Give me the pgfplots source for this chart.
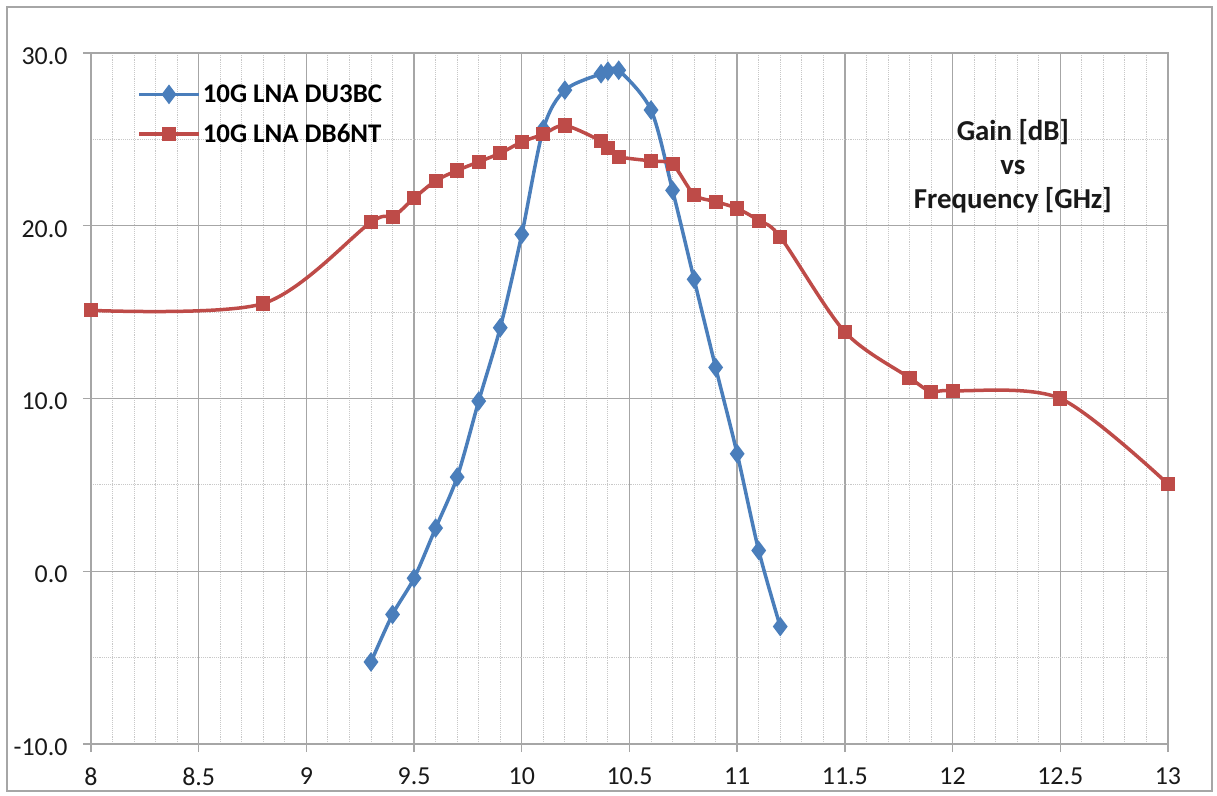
\documentclass[border=0pt]{standalone}
\usepackage{fontspec}
\setmainfont{Carlito}
\usepackage{pgfplots}
\pgfplotsset{compat=1.18}

\definecolor{xlblue}{HTML}{4A7EBB}
\definecolor{xlred}{HTML}{BE4B48}
\definecolor{majgrid}{HTML}{A6A6A6}
\definecolor{mingrid}{HTML}{C8C8C8}

\begin{document}
\begin{tikzpicture}
% page = 1217 x 796 px, plot area 1077 x 691 px
\path[use as bounding box] (-91bp,-52bp) rectangle (1126bp,744bp);
\draw[majgrid, line width=1.2bp] (-84bp,-47bp) rectangle (1121bp,737bp);
\begin{axis}[
    scale only axis,
    width=1077bp, height=691bp,
    xmin=8, xmax=13, ymin=-10, ymax=30,
    xtick distance=0.5, ytick distance=10,
    minor x tick num=4, minor y tick num=1,
    grid=both,
    major grid style={majgrid, line width=1.4bp},
    minor grid style={mingrid, line width=0.9bp, densely dotted},
    axis line style={majgrid, line width=1.4bp},
    tick align=outside,
    major tick length=8bp, minor tick length=0pt,
    tick style={majgrid, line width=1.4bp},
    xtick pos=bottom, ytick pos=left,
    ticklabel style={font=\fontsize{26}{30}\selectfont, text=black!90},
    /pgf/number format/assume math mode=true,
    yticklabel style={/pgf/number format/fixed, /pgf/number format/fixed zerofill,
        /pgf/number format/precision=1, xshift=-12bp, yshift=-3bp},
    xticklabel style={yshift=-12bp},
    legend style={draw=none, fill=none, at={(0.04,0.96)}, anchor=north west,
        font=\bfseries\fontsize{27}{30}\selectfont, row sep=16bp},
    legend cell align=left,
    legend image code/.code={
        \draw[mark repeat=2, mark phase=2, #1]
        plot coordinates {(0bp,0bp) (30bp,0bp) (60bp,0bp)};},
]
\addplot[xlblue, line width=3.5bp, smooth, tension=0.5,
    mark=diamond*, mark size=7bp, mark options={solid}] coordinates {
    (9.3,-5.25) (9.4,-2.5) (9.5,-0.4) (9.6,2.5) (9.7,5.45) (9.8,9.85)
    (9.9,14.1) (10.0,19.5) (10.1,25.6) (10.2,27.85) (10.368,28.8)
    (10.4,28.95) (10.45,29.0) (10.6,26.7) (10.7,22.05) (10.8,16.9)
    (10.9,11.8) (11.0,6.8) (11.1,1.2) (11.2,-3.2)
};
\addlegendentry{10G LNA DU3BC}
\addplot[xlred, line width=3.5bp, smooth, tension=0.5,
    mark=square*, mark size=5.3bp, mark options={solid}] coordinates {
    (8.0,15.1) (8.8,15.5) (9.3,20.2) (9.4,20.5) (9.5,21.6) (9.6,22.6)
    (9.7,23.2) (9.8,23.7) (9.9,24.2) (10.0,24.85) (10.1,25.3) (10.2,25.8)
    (10.368,24.9) (10.4,24.5) (10.45,24.0) (10.6,23.75) (10.7,23.55)
    (10.8,21.8) (10.9,21.4) (11.0,21.0) (11.1,20.3) (11.2,19.35)
    (11.5,13.85) (11.8,11.2) (11.9,10.4) (12.0,10.45) (12.5,10.0) (13.0,5.05)
};
\addlegendentry{10G LNA DB6NT}
\node[align=center, font=\bfseries\fontsize{29}{34}\selectfont, text=black!90]
    at (axis cs:12.28,23.45) {Gain [dB]\\vs\\Frequency [GHz]};
\end{axis}
\end{tikzpicture}
\end{document}
